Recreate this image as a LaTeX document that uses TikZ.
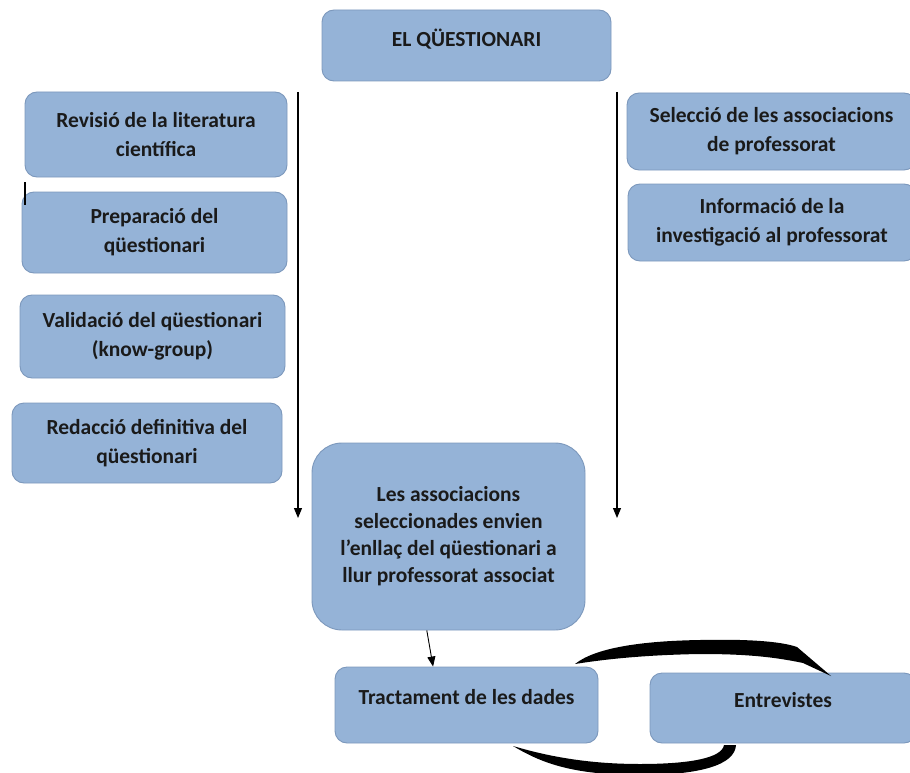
\documentclass[tikz,border=0pt]{standalone}
\usepackage{fontspec}
\setmainfont{Carlito}
\usepackage{tikz}
\usetikzlibrary{arrows.meta}
\definecolor{cBox}{HTML}{95B3D7}
\definecolor{cEdge}{HTML}{7C98BC}
\definecolor{cInk}{HTML}{1A1A1A}
\tikzset{
  box/.style   ={draw=cEdge, fill=cBox, rounded corners=12pt, line width=0.9pt, align=center, inner sep=0pt,
                 font=\fontsize{21.5}{29}\selectfont\bfseries, text=cInk},
  bigbox/.style={box, rounded corners=30pt, font=\fontsize{21.5}{27}\selectfont\bfseries},
  onerow/.style={box, text depth=16pt},
  arrow/.style ={-{Triangle[length=10pt,width=8pt]}, line width=1.1pt, draw=black},
}

\begin{document}
\begin{tikzpicture}[x=1pt,y=-1pt]
  \useasboundingbox (0,0) rectangle (910,773);
  \clip (0,0) rectangle (910,773);
  \node[onerow, minimum width=289pt, minimum height=71pt] (title) at (466.5,45.5) {EL QÜESTIONARI};
  \node[box, minimum width=262pt, minimum height=85pt] (revisio) at (156,134.5) {Revisió de la literatura\\científica};
  \node[box, minimum width=265pt, minimum height=81pt] (prepara) at (154.5,232.5) {Preparació del\\qüestionari};
  \node[box, minimum width=265pt, minimum height=83pt] (valida) at (152.5,336.5) {Validació del qüestionari\\(know-group)};
  \node[box, minimum width=270pt, minimum height=80pt] (redacta) at (147,443) {Redacció definitiva del\\qüestionari};
  \node[box, minimum width=289pt, minimum height=77pt] (selecta) at (771.5,131.5) {Selecció de les associacions\\de professorat};
  \node[box, minimum width=288pt, minimum height=77pt] (informa) at (772,222.5) {Informació de la\\investigació al professorat};
  \node[bigbox, minimum width=273pt, minimum height=187pt] (envia) at (448.5,536.5) {Les associacions\\seleccionades envien\\l’enllaç del qüestionari a\\llur professorat associat};
  \node[onerow, minimum width=263pt, minimum height=76pt] (tracta) at (466.5,705) {Tractament de les dades};
  \node[onerow, minimum width=266pt, minimum height=70pt] (entrev) at (783,708) {Entrevistes};

  \coordinate (lTop) at (298,92);
  \coordinate (lEnd) at (298,518);
  \coordinate (rTop) at (617,92);
  \coordinate (rEnd) at (617,518);
  \draw[arrow] (lTop) -- (lEnd);
  \draw[arrow] (rTop) -- (rEnd);
  \draw[arrow, line width=0.9pt] (envia.-103) -- (tracta.131);

  \coordinate (tickA) at (25,182);
  \coordinate (tickB) at (25,205);
  \draw[line width=1.3pt] (tickA) -- (tickB);

  \fill (575,664) .. controls (595,648) and (640,641) .. (700,640)
        .. controls (745,639) and (780,641) .. (797,647) -- (831,676)
        -- (803,663) .. controls (770,656) and (740,654) .. (700,654)
        .. controls (640,655) and (600,660) .. (575,664) -- cycle;
  \fill (513,746) .. controls (540,762) and (570,775) .. (640,775)
        .. controls (700,775) and (735,765) .. (736,745) -- (724,745)
        .. controls (722,758) and (690,764) .. (640,764)
        .. controls (590,764) and (550,757) .. (513,746) -- cycle;
\end{tikzpicture}
\end{document}
